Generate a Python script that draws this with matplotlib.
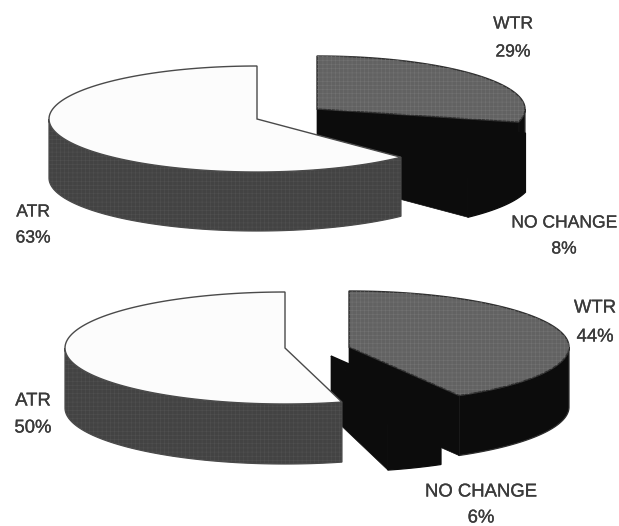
import numpy as np
import matplotlib
matplotlib.use("Agg")
import matplotlib.pyplot as plt
from matplotlib.patches import Polygon
import matplotlib.patheffects as pe

# ---- data ----
categories = ["WTR", "NO CHANGE", "ATR"]
top_values = [29, 8, 63]
bottom_values = [44, 6, 50]

# ---- layout / style (pixel space) ----
W, H = 619, 526
# drawn-angle tweak (deg) for each slice end, imitating the source's perspective
top_adjust = [0, 3]
bottom_adjust = [-8.4, -15]
top_layout = {"centers": [(317, 109), (324, 120), (257, 119)], "rx": 208, "ry": 53, "depth": 59}
bottom_layout = {"centers": [(349, 347), (331, 356), (285, 348)], "rx": 220, "ry": 56, "depth": 60}
top_faces = ["#626262", "#0c0c0c", "#fcfcfc"]
side_colors = ["#0c0c0c", "#0c0c0c", "#434343"]
edge_colors = ["#2e2e2e", "#0c0c0c", "#4a4a4a"]
texture = ["#727272", None, None]
side_texture = [None, None, "#505050"]
top_label_pos = [(513, 24, 52), (564, 223, 249), (33, 212, 238)]
bottom_label_pos = [(595, 308, 337), (481, 492, 518), (33, 401, 428)]
top_font = [17.5, 17.5, 17.5]
bottom_font = [18.5, 18.5, 18.5]

plt.rcParams["font.family"] = ["Liberation Sans", "DejaVu Sans"]
plt.rcParams["hatch.linewidth"] = 0.4
fig = plt.figure(figsize=(W / 100, H / 100), dpi=100)
ax = fig.add_axes([0, 0, 1, 1])
ax.set_xlim(0, W)
ax.set_ylim(H, 0)
ax.axis("off")


def arc(c, rx, ry, a0, a1, dy=0):
    t = np.radians(np.linspace(a0, a1, 120))
    return np.column_stack([c[0] + rx * np.sin(t), c[1] - ry * np.cos(t) + dy])


def draw_pie(values, adjust, lay):
    cum = np.cumsum(values) * 3.6
    ends = list(cum[:-1] + np.array(adjust)) + [360.0]
    starts = [0.0] + ends[:-1]
    rx, ry, d = lay["rx"], lay["ry"], lay["depth"]
    for i, (a0, a1) in enumerate(zip(starts, ends)):
        c = lay["centers"][i]
        # outer wall: only the part that faces the viewer
        f0, f1 = max(a0, 90), min(a1, 270)
        if f1 > f0:
            top = arc(c, rx, ry, f0, f1)
            bot = arc(c, rx, ry, f1, f0, d)
            wall = np.vstack([top, bot])
            ax.add_patch(Polygon(wall, closed=True, fc=side_colors[i],
                                 ec=edge_colors[i], lw=0.9, zorder=2 + i))
            if side_texture[i]:
                ax.add_patch(Polygon(wall, closed=True, fc="none", ec=side_texture[i],
                                     hatch="++++", lw=0, zorder=2 + i))
        # radial cut face at the clockwise end of the slice
        if a1 < 360:
            p = arc(c, rx, ry, a1, a1)[0]
            face = [c, p, (p[0], p[1] + d), (c[0], c[1] + d)]
            ax.add_patch(Polygon(face, closed=True, fc=side_colors[i], ec=side_colors[i],
                                 lw=0.5, zorder=2 + i))
        # top surface
        pts = np.vstack([[c], arc(c, rx, ry, a0, a1)])
        ax.add_patch(Polygon(pts, closed=True, fc=top_faces[i], ec=edge_colors[i],
                             lw=1.0, zorder=2 + i))
        if texture[i]:
            ax.add_patch(Polygon(pts, closed=True, fc="none", ec=texture[i],
                                 hatch="++++", lw=0, zorder=2 + i))


def draw_labels(values, pos, sizes):
    effect = [pe.withStroke(linewidth=0.2, foreground="#3a3a3a")]
    for name, v, (x, y1, y2), s in zip(categories, values, pos, sizes):
        fs = s * 72 / 100
        ax.text(x, y1, name, ha="center", va="center", fontsize=fs, color="#3a3a3a",
                zorder=10, path_effects=effect)
        ax.text(x, y2, f"{v}%", ha="center", va="center", fontsize=fs, color="#3a3a3a",
                zorder=10, path_effects=effect)


draw_pie(top_values, top_adjust, top_layout)
draw_pie(bottom_values, bottom_adjust, bottom_layout)
draw_labels(top_values, top_label_pos, top_font)
draw_labels(bottom_values, bottom_label_pos, bottom_font)

fig.savefig("out.png", dpi=100, facecolor="white")
